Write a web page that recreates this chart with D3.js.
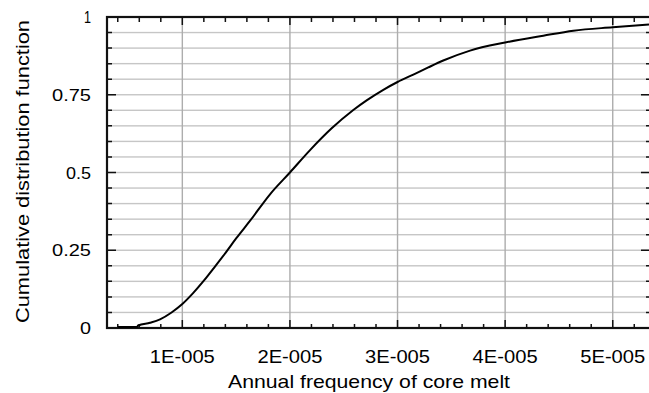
<!DOCTYPE html>
<html>
<head>
<meta charset="utf-8">
<script src="https://cdn.jsdelivr.net/npm/d3@7"></script>
<style>
  html, body { margin: 0; padding: 0; background: #fff; }
  svg { display: block; }
  text { font-family: Arial, "Liberation Sans", sans-serif; fill: #000; }
</style>
</head>
<body>
<svg id="chart" width="649" height="393" viewBox="0 0 649 393"></svg>
<script>
// ---- data ----
const cdfX = [4.0e-6, 5.8e-6, 5.9e-6, 7.0e-6, 7.93e-6, 9.0e-6, 1.0e-5, 1.1e-5, 1.2e-5, 1.3e-5,
              1.4e-5, 1.5e-5, 1.63e-5, 1.815e-5, 2.0e-5, 2.187e-5, 2.388e-5, 2.589e-5, 2.713e-5,
              2.868e-5, 3.0e-5, 3.147e-5, 3.286e-5, 3.425e-5, 3.674e-5, 4.0e-5, 4.355e-5,
              4.634e-5, 5.0e-5, 5.337e-5];
const cdfY = [0.003, 0.004, 0.008, 0.017, 0.028, 0.05, 0.077, 0.112, 0.152, 0.196,
              0.241, 0.288, 0.345, 0.43, 0.5, 0.572, 0.642, 0.701, 0.732,
              0.766, 0.791, 0.815, 0.838, 0.86, 0.892, 0.918, 0.94,
              0.956, 0.967, 0.976];
const xMajorTicks = [1e-5, 2e-5, 3e-5, 4e-5, 5e-5];
const xTickLabels = ["1E-005", "2E-005", "3E-005", "4E-005", "5E-005"];
const xMinorTicks = [4e-6, 6e-6, 8e-6, 1.2e-5, 1.4e-5, 1.6e-5, 1.8e-5, 2.2e-5, 2.4e-5, 2.6e-5, 2.8e-5,
                     3.2e-5, 3.4e-5, 3.6e-5, 3.8e-5, 4.2e-5, 4.4e-5, 4.6e-5, 4.8e-5, 5.2e-5];
const yMajorTicks = [0, 0.25, 0.5, 0.75, 1];
const yTickLabels = ["0", "0.25", "0.5", "0.75", "1"];
const yMinorTicks = [0.05, 0.1, 0.15, 0.2, 0.3, 0.35, 0.4, 0.45, 0.55, 0.6, 0.65, 0.7, 0.8, 0.85, 0.9, 0.95];
const xTitle = "Annual frequency of core melt";
const yTitle = "Cumulative distribution function";

// ---- layout ----
const pL = 107, pR = 649, pT = 17, pB = 328;
const svg = d3.select("#chart");
const xS = d3.scaleLinear().domain([3e-6, 5.337e-5]).range([pL, pR]);
const yS = d3.scaleLinear().domain([0, 1]).range([pB, pT]);

// horizontal grid (filled rects)
svg.append("g").selectAll("rect").data(yMinorTicks.concat([0.25, 0.5, 0.75])).join("rect")
  .attr("x", pL).attr("width", pR - pL)
  .attr("y", d => yS(d) - 0.7).attr("height", 1.4)
  .attr("fill", "#c6c6c6");
// vertical grid
svg.append("g").selectAll("rect").data(xMajorTicks).join("rect")
  .attr("x", d => xS(d) - 0.7).attr("width", 1.4)
  .attr("y", pT).attr("height", pB - pT)
  .attr("fill", "#adadad");

// plot frame as an outlined rect
svg.append("rect")
  .attr("x", pL).attr("y", pT).attr("width", pR - pL + 2).attr("height", pB - pT)
  .attr("fill", "none").attr("stroke", "#111111").attr("stroke-width", 2.2);

// all inward ticks in one stroked path
const p = d3.path();
xMinorTicks.forEach(v => { p.moveTo(xS(v), pB); p.lineTo(xS(v), pB - 4); p.moveTo(xS(v), pT); p.lineTo(xS(v), pT + 5); });
xMajorTicks.forEach(v => { p.moveTo(xS(v), pB); p.lineTo(xS(v), pB - 8); p.moveTo(xS(v), pT); p.lineTo(xS(v), pT + 8); });
yMinorTicks.forEach(v => { p.moveTo(pL, yS(v)); p.lineTo(pL + 5, yS(v)); p.moveTo(pR, yS(v)); p.lineTo(pR - 3, yS(v)); });
yMajorTicks.forEach(v => { p.moveTo(pL, yS(v)); p.lineTo(pL + 9, yS(v)); p.moveTo(pR, yS(v)); p.lineTo(pR - 8, yS(v)); });
svg.append("path").attr("d", p.toString())
  .attr("fill", "none").attr("stroke", "#111111").attr("stroke-width", 1.5);

// curve
const pts = cdfX.map((v, i) => [v, cdfY[i]]);
svg.append("path").datum(pts)
  .attr("fill", "none").attr("stroke", "#000").attr("stroke-width", 2)
  .attr("stroke-linejoin", "round")
  .attr("d", d3.line().x(d => xS(d[0])).y(d => yS(d[1])).curve(d3.curveMonotoneX));

// y tick labels
const yLabW = { "0": 11, "0.25": 39, "0.5": 25, "0.75": 39, "1": 7 };
svg.append("g").selectAll("text").data(yMajorTicks).join("text")
  .attr("x", 91).attr("y", d => yS(d) + 6)
  .attr("text-anchor", "end")
  .style("font-size", "16px")
  .attr("textLength", (d, i) => yLabW[yTickLabels[i]])
  .attr("lengthAdjust", "spacingAndGlyphs")
  .text((d, i) => yTickLabels[i]);

// x tick labels
svg.append("g").selectAll("text").data(xMajorTicks).join("text")
  .attr("x", d => xS(d)).attr("y", 363)
  .attr("text-anchor", "middle")
  .style("font-size", "18px")
  .attr("textLength", 65)
  .attr("lengthAdjust", "spacingAndGlyphs")
  .text((d, i) => xTickLabels[i]);

// axis titles
svg.append("text")
  .attr("x", 369).attr("y", 388)
  .attr("text-anchor", "middle")
  .style("font-size", "18.5px")
  .attr("textLength", 282)
  .attr("lengthAdjust", "spacingAndGlyphs")
  .text(xTitle);
svg.append("text")
  .attr("transform", "translate(29,171.5) rotate(-90)")
  .attr("text-anchor", "middle")
  .style("font-size", "19px")
  .attr("textLength", 303)
  .attr("lengthAdjust", "spacingAndGlyphs")
  .text(yTitle);
</script>
</body>
</html>
